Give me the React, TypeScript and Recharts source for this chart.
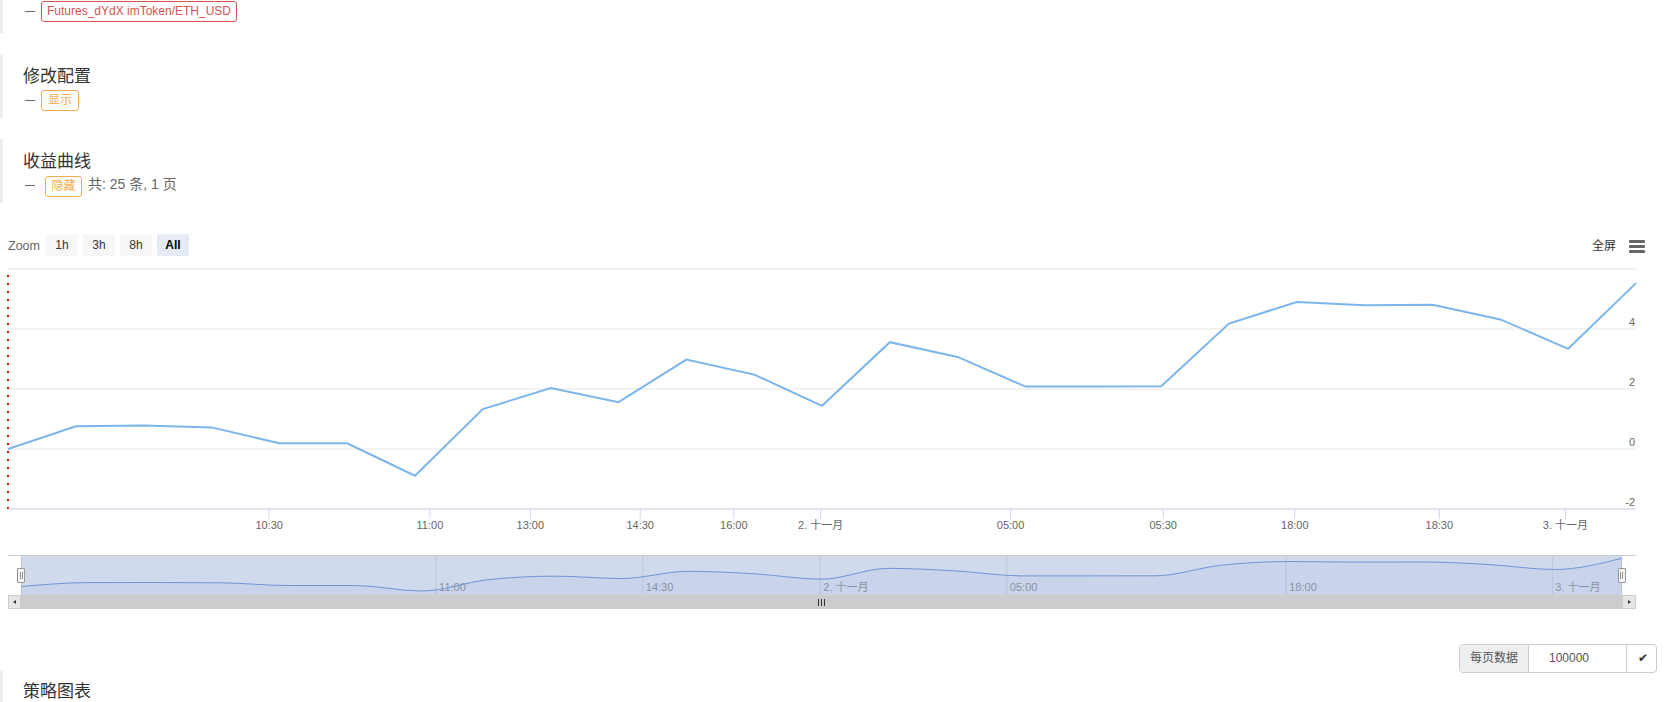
import React from 'react';
import { LineChart, Line, XAxis, YAxis, CartesianGrid, ReferenceLine, AreaChart, Area } from 'recharts';

// ---- data ----
const pointIndex = [0, 1, 2, 3, 4, 5, 6, 7, 8, 9, 10, 11, 12, 13, 14, 15, 16, 17, 18, 19, 20, 21, 22, 23, 24];
const equity = [0, 0.76, 0.78, 0.72, 0.19, 0.19, -0.89, 1.33, 2.03, 1.56, 2.98, 2.48, 1.44, 3.56, 3.07, 2.08, 2.08, 2.09, 4.18, 4.9, 4.79, 4.81, 4.32, 3.34, 5.53];

const xTickPos = [3.85, 6.22, 7.7, 9.32, 10.7, 11.98, 14.78, 17.03, 18.97, 21.1, 22.96];
const xTickLabels = ['10:30', '11:00', '13:00', '14:30', '16:00', '2. 十一月', '05:00', '05:30', '18:00', '18:30', '3. 十一月'];

const navTickPos = [6.22, 9.32, 11.98, 14.78, 18.97, 22.96];
const navTickLabels = ['11:00', '14:30', '2. 十一月', '05:00', '18:00', '3. 十一月'];

const yTicks = [-2, 0, 2, 4, 6];
const yLabelTicks = [-2, 0, 2, 4];
const navDomain = [-1.67, 6.18];

const zoomButtons = ['1h', '3h', '8h', 'All'];
const selectedZoom = 'All';

const chartData = pointIndex.map((i, k) => ({ i, v: equity[k] }));

const FONT = '"Helvetica Neue", Helvetica, Arial, "Liberation Sans", "Noto Sans CJK SC", sans-serif';
const CHART_FONT = '"Lucida Grande", "Lucida Sans Unicode", Arial, "Liberation Sans", "Noto Sans CJK SC", sans-serif';

const renderYTick = (props: any) => {
  const { y, payload } = props;
  if (!yLabelTicks.includes(payload.value)) return <g />;
  return (
    <text x={1635} y={y - 3} textAnchor="end" fill="#666" fontSize={11} fontFamily={CHART_FONT}>
      {payload.value}
    </text>
  );
};

const renderNavTick = (props: any) => {
  const { x, payload } = props;
  const idx = navTickPos.indexOf(payload.value);
  return (
    <text x={x + 3} y={35.5} textAnchor="start" fill="#8a93a5" fontSize={11} fontFamily={CHART_FONT}>
      {navTickLabels[idx]}
    </text>
  );
};

const abs = (s: React.CSSProperties): React.CSSProperties => ({ position: 'absolute', ...s });

const Bar = ({ top, height }: { top: number; height: number }) => (
  <div style={abs({ left: 0, top, width: 3, height, background: '#eeeeee' })} />
);

const Dash = ({ cy }: { cy: number }) => (
  <div style={abs({ left: 25, top: cy - 8, height: 16, lineHeight: '16px', fontSize: 10, color: '#444' })}>—</div>
);

const Tag = ({ left, top, width, color, text }: any) => (
  <div
    style={abs({
      left,
      top,
      width,
      height: 21,
      boxSizing: 'border-box',
      border: `1px solid ${color}`,
      borderRadius: 3,
      color,
      fontSize: 12,
      lineHeight: '19px',
      textAlign: 'center',
      whiteSpace: 'nowrap',
    })}
  >
    {text}
  </div>
);

export default function App() {
  return (
    <div style={abs({ left: 0, top: 0, width: 1669, height: 702, overflow: 'hidden', background: '#fff', fontFamily: FONT })}>
      {/* section bars */}
      <Bar top={0} height={33} />
      <Bar top={54} height={64} />
      <Bar top={139} height={64} />
      <Bar top={670} height={32} />

      {/* row 1 */}
      <Dash cy={11} />
      <Tag left={41} top={1} width={196} color="#d9534f" text="Futures_dYdX imToken/ETH_USD" />

      {/* 修改配置 */}
      <div style={abs({ left: 23, top: 66, height: 21, lineHeight: '21px', fontSize: 17, color: '#333' })}>修改配置</div>
      <Dash cy={100} />
      <Tag left={41} top={90} width={38} color="#f0ad4e" text="显示" />

      {/* 收益曲线 */}
      <div style={abs({ left: 23, top: 151, height: 21, lineHeight: '21px', fontSize: 17, color: '#333' })}>收益曲线</div>
      <Dash cy={185} />
      <Tag left={45} top={176} width={37} color="#f0ad4e" text="隐藏" />
      <div style={abs({ left: 88, top: 175, height: 18, lineHeight: '18px', fontSize: 14, color: '#666', whiteSpace: 'nowrap' })}>
        共: 25 条, 1 页
      </div>

      {/* range selector */}
      <div style={abs({ left: 8, top: 237, height: 18, lineHeight: '18px', fontSize: 12.5, color: '#666', fontFamily: CHART_FONT })}>Zoom</div>
      {zoomButtons.map((b, k) => (
        <div
          key={b}
          style={abs({
            left: 46 + k * 37,
            top: 234,
            width: 32,
            height: 22,
            lineHeight: '22px',
            textAlign: 'center',
            fontSize: 12,
            borderRadius: 2,
            fontFamily: CHART_FONT,
            background: b === selectedZoom ? '#e6ebf5' : '#f7f7f7',
            color: b === selectedZoom ? '#000' : '#333',
            fontWeight: b === selectedZoom ? 'bold' : 'normal',
          })}
        >
          {b}
        </div>
      ))}

      {/* fullscreen + menu */}
      <div style={abs({ left: 1592, top: 238, height: 16, lineHeight: '16px', fontSize: 12, color: '#333' })}>全屏</div>
      {[0, 5, 10].map((o) => (
        <div key={o} style={abs({ left: 1629, top: 239.5 + o, width: 16, height: 3, background: '#666', borderRadius: 1 })} />
      ))}

      {/* main chart */}
      <div style={abs({ left: 0, top: 260 })}>
        <LineChart
          width={1669}
          height={280}
          data={chartData}
          margin={{ top: 9, right: 33, bottom: 0, left: 8 }}
          style={{ fontFamily: CHART_FONT }}
        >
          <CartesianGrid horizontal vertical={false} stroke="#e6e6e6" />
          <XAxis
            type="number"
            dataKey="i"
            domain={[0, 24]}
            ticks={xTickPos}
            interval={0}
            height={31}
            stroke="#ccd6eb"
            tickSize={10}
            tick={{ fill: '#666', fontSize: 11 }}
            tickFormatter={(v: number) => xTickLabels[xTickPos.indexOf(v)]}
          />
          <YAxis
            orientation="right"
            mirror
            width={40}
            domain={[-2, 6]}
            ticks={yTicks}
            interval={0}
            axisLine={false}
            tickLine={false}
            tick={renderYTick}
          />
          <ReferenceLine x={0} stroke="#ff0000" strokeWidth={2} strokeDasharray="2 6" />
          <Line
            dataKey="v"
            type="linear"
            stroke="#7cb5ec"
            strokeWidth={2}
            dot={false}
            activeDot={false}
            isAnimationActive={false}
          />
        </LineChart>
      </div>

      {/* navigator */}
      <div style={abs({ left: 21.4, top: 555, width: 1600.2, height: 40, background: '#d1daed' })} />
      <div style={abs({ left: 0, top: 555 })}>
        <AreaChart
          width={1669}
          height={40}
          data={chartData}
          margin={{ top: 0, right: 47.4, bottom: 0, left: 21.4 }}
          style={{ fontFamily: CHART_FONT }}
        >
          <CartesianGrid horizontal={false} vertical stroke="#bfc8da" />
          <XAxis
            type="number"
            dataKey="i"
            domain={[0, 24]}
            ticks={navTickPos}
            interval={0}
            mirror
            height={20}
            axisLine={false}
            tickLine={false}
            tick={renderNavTick}
          />
          <YAxis hide domain={navDomain} />
          <Area
            type="monotone"
            dataKey="v"
            stroke="#6f95d6"
            strokeWidth={1}
            fill="#335cad"
            fillOpacity={0.05}
            baseValue="dataMin"
            dot={false}
            activeDot={false}
            isAnimationActive={false}
          />
        </AreaChart>
      </div>
      <div style={abs({ left: 8, top: 555, width: 1628, height: 1, background: '#cccccc' })} />

      {/* navigator handles */}
      {[21.4, 1621.6].map((cx) => (
        <div
          key={cx}
          style={abs({
            left: cx - 4,
            top: 567.5,
            width: 8,
            height: 15,
            boxSizing: 'border-box',
            background: '#f2f2f2',
            border: '1px solid #999',
            borderRadius: 1,
          })}
        >
          <div style={abs({ left: 1.5, top: 3.5, width: 1, height: 7, background: '#999' })} />
          <div style={abs({ left: 3.5, top: 3.5, width: 1, height: 7, background: '#999' })} />
        </div>
      ))}

      {/* scrollbar */}
      <div style={abs({ left: 8, top: 595, width: 1628, height: 14, background: '#f2f2f2' })} />
      <div style={abs({ left: 21.4, top: 595, width: 1600.2, height: 14, background: '#cccccc' })} />
      <div style={abs({ left: 8, top: 595, width: 13.4, height: 14, boxSizing: 'border-box', background: '#e6e6e6', border: '1px solid #cccccc' })}>
        <div style={abs({ left: 3.5, top: 3.5, width: 0, height: 0, borderTop: '2.5px solid transparent', borderBottom: '2.5px solid transparent', borderRight: '3px solid #333' })} />
      </div>
      <div style={abs({ left: 1621.6, top: 595, width: 14.4, height: 14, boxSizing: 'border-box', background: '#e6e6e6', border: '1px solid #cccccc' })}>
        <div style={abs({ left: 5, top: 3.5, width: 0, height: 0, borderTop: '2.5px solid transparent', borderBottom: '2.5px solid transparent', borderLeft: '3px solid #333' })} />
      </div>
      {[-3, 0, 3].map((o) => (
        <div key={o} style={abs({ left: 821 + o, top: 598.5, width: 1, height: 7, background: '#333' })} />
      ))}

      {/* page size input group */}
      <div
        style={abs({
          left: 1459,
          top: 644,
          width: 198,
          height: 29,
          boxSizing: 'border-box',
          border: '1px solid #ccc',
          borderRadius: 4,
          overflow: 'hidden',
          fontSize: 12,
        })}
      >
        <div style={abs({ left: 0, top: 0, width: 68, height: 27, lineHeight: '27px', textAlign: 'center', background: '#eeeeee', color: '#555', borderRight: '1px solid #ccc' })}>
          每页数据
        </div>
        <div style={abs({ left: 89, top: 0, height: 27, lineHeight: '27px', color: '#555' })}>100000</div>
        <div style={abs({ left: 166, top: 0, width: 31, height: 27, lineHeight: '27px', textAlign: 'center', color: '#333', borderLeft: '1px solid #ccc' })}>
          ✔
        </div>
      </div>

      {/* 策略图表 */}
      <div style={abs({ left: 23, top: 681, height: 21, lineHeight: '21px', fontSize: 17, color: '#333' })}>策略图表</div>
    </div>
  );
}
